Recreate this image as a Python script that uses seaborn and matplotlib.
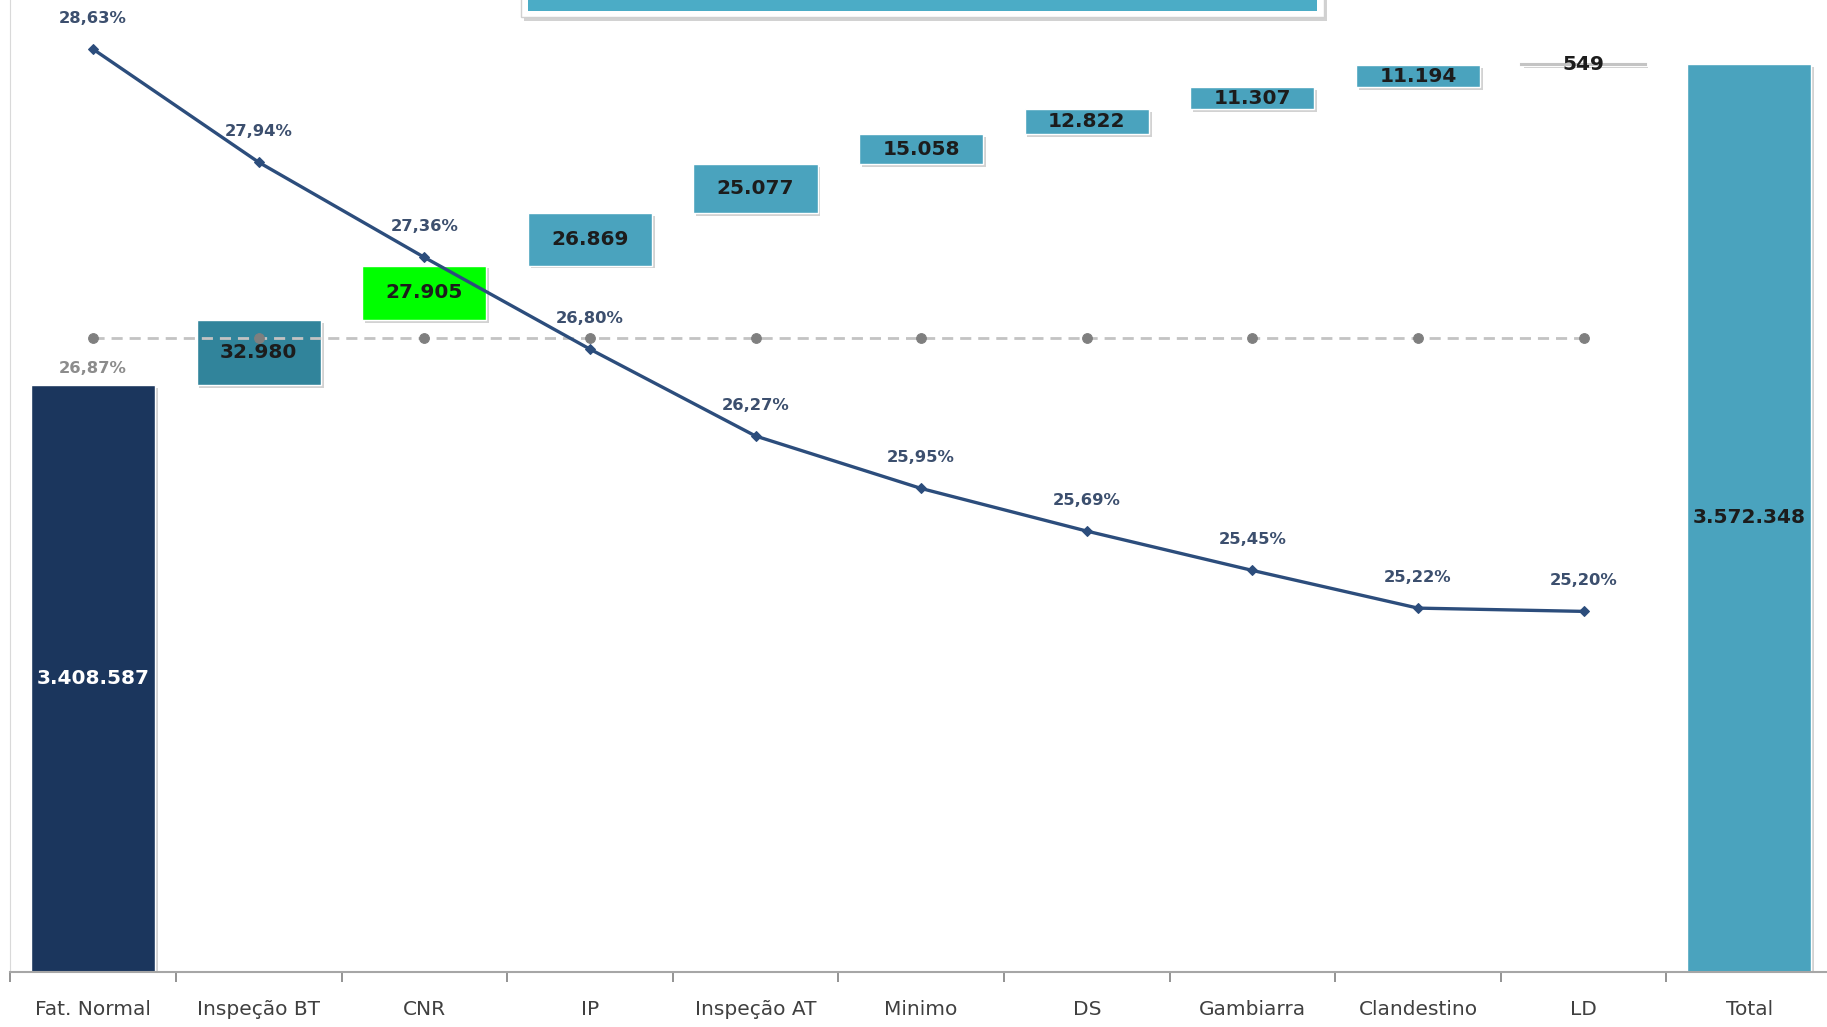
import numpy as np
import pandas as pd
import seaborn as sns
import matplotlib.pyplot as plt
import matplotlib.patheffects as pe
from matplotlib.patches import Rectangle

# categorias do waterfall
categorias = ["Fat. Normal", "Inspeção BT", "CNR", "IP", "Inspeção AT", "Minimo",
              "DS", "Gambiarra", "Clandestino", "LD", "Total"]
valores = [3408587, 32980, 27905, 26869, 25077, 15058, 12822, 11307, 11194, 549, 3572348]

# linha de percentuais (eixo secundário)
perc_linha = [28.63, 27.94, 27.36, 26.80, 26.27, 25.95, 25.69, 25.45, 25.22, 25.20]
perc_base = [26.87, 26.87, 26.87, 26.87, 26.87, 26.87, 26.87, 26.87, 26.87, 26.87]

cores = ["#1B365D", "#31849B", "#00FF00", "#4AA3BE", "#4AA3BE", "#4AA3BE",
         "#4AA3BE", "#4AA3BE", "#4AA3BE", "#4AA3BE", "#4AA3BE"]

Y_MIN, Y_MAX = 3109000, 3605000


def fmt_num(v):
    return f"{v:,}".replace(",", ".")


def fmt_pct(v):
    return f"{v:.2f}".replace(".", ",") + "%"


# base de cada barra flutuante = acumulado anterior
bases = [0]
acum = valores[0]
for v in valores[1:-1]:
    bases.append(acum)
    acum += v
bases.append(0)

df = pd.DataFrame({"categoria": categorias, "valor": valores, "base": bases})

sns.set_style("white")
fig = plt.figure(figsize=(18.27, 10.27), dpi=100)
ax = fig.add_axes([10.3 / 1827, 55 / 1027, 1821.7 / 1827, 972 / 1027])

sns.barplot(data=df, x="categoria", y="valor", order=categorias, bottom=df["base"].values,
            width=0.75, color="#4AA3BE", saturation=1, errorbar=None, ax=ax)

sombra = [pe.SimplePatchShadow(offset=(2, -2), shadow_rgbFace="#808080", alpha=0.35), pe.Normal()]
for i, p in enumerate(ax.patches):
    p.set_facecolor(cores[i])
    if categorias[i] == "LD":
        p.set_edgecolor("#C4C4C4")
        p.set_linewidth(1.5)
    else:
        p.set_edgecolor("white")
        p.set_linewidth(1)
    p.set_path_effects(sombra)

# rótulo no meio da parte visível de cada barra
for i, (v, b) in enumerate(zip(valores, bases)):
    cor_txt = "white" if i == 0 else "#1C1C1C"
    y_txt = (max(b, Y_MIN) + b + v) / 2
    ax.text(i, y_txt, fmt_num(v), ha="center", va="center", fontsize=14.5,
            fontweight="bold", color=cor_txt, zorder=5)

ax.set_ylim(Y_MIN, Y_MAX)
ax.set_xlim(-0.5, 10.5)
ax.set_xlabel("")
ax.set_ylabel("")
ax.set_yticks([])
ax.set_xticks(range(len(categorias)))
ax.set_xticklabels(categorias)
ax.set_xticks(np.arange(-0.5, len(categorias), 1), minor=True)
ax.tick_params(axis="x", which="major", length=0, pad=20, labelsize=14.5, labelcolor="#404040")
ax.tick_params(axis="x", which="minor", length=7, width=1.2, color="#808080", direction="out", bottom=True)
for s in ["top", "right"]:
    ax.spines[s].set_visible(False)
ax.spines["left"].set_color("#D9D9D9")
ax.spines["bottom"].set_color("#A6A6A6")
ax.spines["bottom"].set_linewidth(1.5)

# eixo secundário com os percentuais
ax2 = ax.twinx()
pos = np.arange(len(perc_linha))
sns.lineplot(x=pos, y=perc_base, ax=ax2, color="#C3C3C3", linewidth=2, linestyle=(0, (4, 2.5)),
             marker="o", markersize=7, markerfacecolor="#7F7F7F", markeredgecolor="#7F7F7F")
sns.lineplot(x=pos, y=perc_linha, ax=ax2, color="#2C4D7C", linewidth=2.4,
             marker="D", markersize=5.5, markerfacecolor="#2C4D7C", markeredgecolor="#2C4D7C")
ax2.set_ylim(23.0, 28.93)
ax2.set_xlim(-0.5, 10.5)
ax2.set_yticks([])
ax2.set_ylabel("")
for s in ax2.spines.values():
    s.set_visible(False)

for i, v in enumerate(perc_linha):
    ax2.annotate(fmt_pct(v), (i, v), xytext=(0, 22), textcoords="offset points",
                 ha="center", va="center", fontsize=11.8, fontweight="bold", color="#3C4F6E")
ax2.annotate(fmt_pct(perc_base[0]), (0, perc_base[0]), xytext=(0, -22), textcoords="offset points",
             ha="center", va="center", fontsize=11.8, fontweight="bold", color="#8C8C8C")

# caixa do título (cortada no topo)
fig.add_artist(Rectangle((521 / 1827, 1010 / 1027), 803 / 1827, 40 / 1027, transform=fig.transFigure,
                         facecolor="white", edgecolor="#D0D0D0", linewidth=1,
                         path_effects=[pe.SimplePatchShadow(offset=(2, -3), shadow_rgbFace="#808080", alpha=0.35),
                                       pe.Normal()]))
fig.add_artist(Rectangle((528 / 1827, 1016 / 1027), 789 / 1827, 30 / 1027, transform=fig.transFigure,
                         facecolor="#4BACC6", edgecolor="none"))

fig.savefig("out.png", dpi=100, facecolor="white")
